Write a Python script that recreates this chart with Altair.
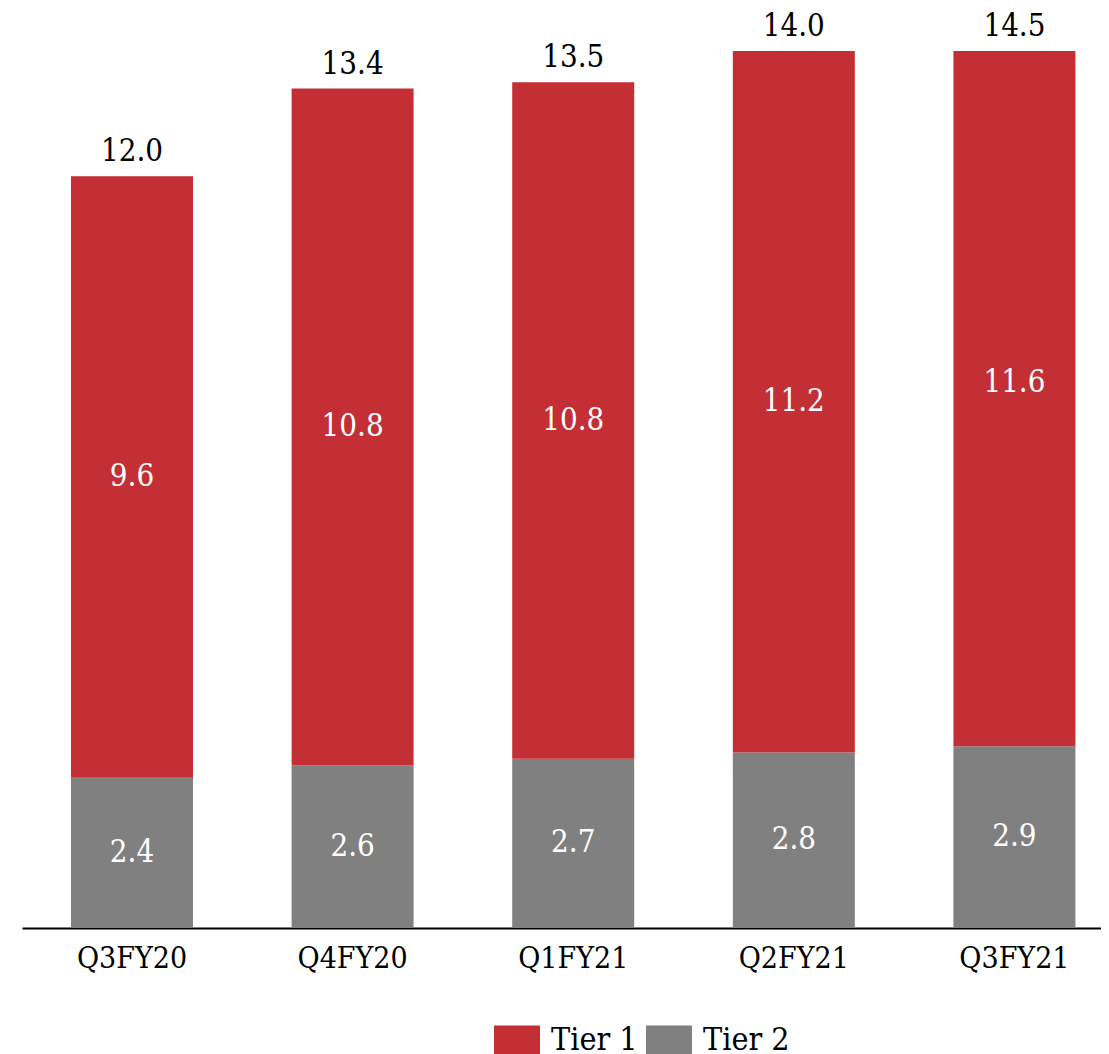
import altair as alt
import pandas as pd

quarters = ["Q3FY20", "Q4FY20", "Q1FY21", "Q2FY21", "Q3FY21"]
tier1 = [9.6, 10.8, 10.8, 11.2, 11.6]
tier2 = [2.4, 2.6, 2.7, 2.8, 2.9]
series = ["Tier 1", "Tier 2"]
colors = ["#C42E35", "#808080"]

rows = []
for i, q in enumerate(quarters):
    rows.append({"quarter": q, "tier": "Tier 2", "value": tier2[i], "order": 0})
    rows.append({"quarter": q, "tier": "Tier 1", "value": tier1[i], "order": 1})
df = pd.DataFrame(rows)

FONT = "DejaVu Serif Condensed, DejaVu Serif"

xenc = alt.X(
    "quarter:N",
    sort=quarters,
    scale=alt.Scale(paddingInner=0.447, paddingOuter=0.169, align=0.657),
    axis=alt.Axis(
        title=None,
        ticks=False,
        grid=False,
        domainColor="#000000",
        domainWidth=2,
        labelFont=FONT,
        labelFontSize=30,
        labelColor="#000000",
        labelPadding=15,
        labelAngle=0,
    ),
)
yscale = alt.Scale(domain=[0, 14], clamp=True, nice=False, zero=True)

base = alt.Chart(df).transform_stack(
    stack="value",
    as_=["y0", "y1"],
    groupby=["quarter"],
    sort=[alt.SortField("order", order="ascending")],
).transform_calculate(mid="(datum.y0 + datum.y1) / 2")

bars = base.mark_bar().encode(
    x=xenc,
    y=alt.Y("y1:Q", scale=yscale, axis=None),
    y2="y0:Q",
    color=alt.Color(
        "tier:N",
        scale=alt.Scale(domain=series, range=colors),
        legend=alt.Legend(
            title=None,
            orient="none",
            legendX=472,
            legendY=966,
            direction="horizontal",
            symbolType="M-1,-0.63H1V0.63H-1Z",
            symbolSize=2116,
            symbolStrokeWidth=0,
            labelFont=FONT,
            labelFontSize=32,
            labelColor="#000000",
            labelOffset=11,
            columnPadding=8,
        ),
    ),
)

mids = base.mark_text(
    color="white", font=FONT, fontSize=31, baseline="middle"
).encode(
    x=xenc,
    y=alt.Y("mid:Q", scale=yscale, axis=None),
    text=alt.Text("value:Q", format=".1f"),
)

totals = alt.Chart(df).mark_text(
    color="black", font=FONT, fontSize=31, baseline="alphabetic", dy=-15
).encode(
    x=xenc,
    y=alt.Y("sum(value):Q", scale=yscale, axis=None),
    text=alt.Text("sum(value):Q", format=".1f"),
)

chart = (
    alt.layer(bars, mids, totals)
    .properties(
        width=1079,
        height=877,
        padding={"left": 14, "top": 43, "right": 0, "bottom": 126},
        autosize=alt.AutoSizeParams(type="none"),
    )
    .configure_view(stroke=None)
)

chart.save("out.html", embed_options={"renderer": "svg", "actions": False})
